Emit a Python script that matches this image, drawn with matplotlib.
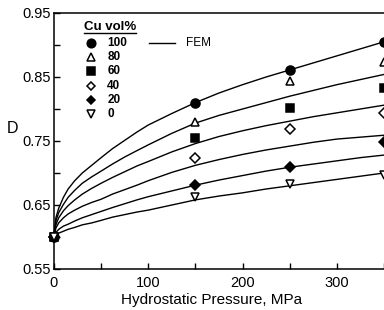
import matplotlib
matplotlib.use("Agg")
import matplotlib.pyplot as plt
from matplotlib.ticker import MultipleLocator

plt.rcParams['font.family'] = ['Liberation Sans', 'DejaVu Sans']

# ---- data ----
cu_labels = ["100", "80", "60", "40", "20", "0"]
exp_pressure = [0, 150, 250, 350]
exp_d_100 = [0.600, 0.810, 0.861, 0.905]
exp_d_80 = [0.600, 0.780, 0.844, 0.873]
exp_d_60 = [0.600, 0.754, 0.801, 0.833]
exp_d_40 = [0.600, 0.724, 0.768, 0.794]
exp_d_20 = [0.600, 0.682, 0.709, 0.748]
exp_d_0 = [0.600, 0.663, 0.683, 0.697]

fem_pressure = [0, 2, 5, 10, 15, 22, 30, 40, 50, 62, 75, 88, 100,
                125, 150, 175, 200, 225, 250, 275, 300, 325, 350]
fem_d_100 = [0.600, 0.630, 0.645, 0.662, 0.675, 0.688, 0.700, 0.712, 0.724, 0.738, 0.751, 0.764, 0.775,
             0.793, 0.810, 0.825, 0.838, 0.850, 0.861, 0.872, 0.883, 0.894, 0.905]
fem_d_80 = [0.600, 0.625, 0.638, 0.651, 0.662, 0.673, 0.684, 0.694, 0.703, 0.714, 0.725, 0.735, 0.744,
            0.762, 0.778, 0.790, 0.800, 0.810, 0.820, 0.829, 0.838, 0.846, 0.854]
fem_d_60 = [0.600, 0.619, 0.630, 0.641, 0.649, 0.658, 0.667, 0.676, 0.684, 0.693, 0.702, 0.711, 0.718,
            0.733, 0.746, 0.757, 0.766, 0.774, 0.781, 0.788, 0.794, 0.800, 0.806]
fem_d_40 = [0.600, 0.614, 0.622, 0.630, 0.636, 0.642, 0.648, 0.654, 0.659, 0.667, 0.674, 0.681, 0.688,
            0.701, 0.712, 0.721, 0.729, 0.736, 0.742, 0.748, 0.753, 0.756, 0.759]
fem_d_20 = [0.600, 0.607, 0.612, 0.617, 0.620, 0.625, 0.630, 0.635, 0.640, 0.646, 0.652, 0.658, 0.663,
            0.672, 0.681, 0.689, 0.696, 0.703, 0.709, 0.714, 0.719, 0.724, 0.728]
fem_d_0 = [0.600, 0.603, 0.606, 0.609, 0.612, 0.615, 0.619, 0.622, 0.626, 0.631, 0.635, 0.639, 0.642,
           0.650, 0.658, 0.664, 0.669, 0.675, 0.680, 0.685, 0.690, 0.695, 0.700]

exp_series = [exp_d_100, exp_d_80, exp_d_60, exp_d_40, exp_d_20, exp_d_0]
fem_series = [fem_d_100, fem_d_80, fem_d_60, fem_d_40, fem_d_20, fem_d_0]

# marker styles: (marker, filled, size)
styles = [("o", True, 6.5), ("^", False, 5.5), ("s", True, 6.0),
          ("D", False, 4.8), ("D", True, 4.8), ("v", False, 5.5)]

fig = plt.figure(figsize=(3.84, 3.10), dpi=100)
ax = fig.add_axes([54 / 384, 1 - 269 / 310, 330 / 384, 256 / 310])

for fd in fem_series:
    ax.plot(fem_pressure, fd, color="black", lw=1.0, zorder=2,
            solid_joinstyle="round")

for ed, (m, filled, ms) in zip(exp_series, styles):
    ax.plot(exp_pressure, ed, linestyle="none", marker=m, markersize=ms,
            markerfacecolor="black" if filled else "white",
            markeredgecolor="black", markeredgewidth=1.1, clip_on=False, zorder=3)

ax.set_xlim(0, 350)
ax.set_ylim(0.55, 0.95)
ax.xaxis.set_major_locator(MultipleLocator(100))
ax.xaxis.set_minor_locator(MultipleLocator(50))
ax.set_yticks([0.55, 0.65, 0.75, 0.85, 0.95])
ax.set_yticklabels(["0.55", "0.65", "0.75", "0.85", "0.95"])
ax.set_yticks([0.60, 0.70, 0.80, 0.90], minor=True)
ax.tick_params(which="both", direction="in", length=4.5, width=1.0,
               labelsize=10.5, top=False, right=False)
ax.tick_params(axis="x", pad=5)
ax.tick_params(axis="y", pad=2)
for s in ["left", "bottom", "top"]:
    ax.spines[s].set_linewidth(1.1)
ax.spines["right"].set_visible(False)

ax.set_xlabel("Hydrostatic Pressure, MPa", fontsize=11)
ax.xaxis.set_label_coords(0.476, -0.121)
ax.xaxis.label.set_va("center")
ax.set_ylabel("D", fontsize=11.5, rotation=0)
ax.yaxis.set_label_coords(-0.127, 0.55)
ax.yaxis.label.set_va("center")

# legend (drawn manually)
ax.text(0.091, 0.945, "Cu vol%", transform=ax.transAxes, fontsize=9.5,
        fontweight="bold", va="center", ha="left")
ax.plot([0.091, 0.249], [0.920, 0.920], transform=ax.transAxes, color="black",
        lw=1.0, clip_on=False)
for i, (lab, (m, filled, ms)) in enumerate(zip(cu_labels, styles)):
    yy = 0.883 - 0.0555 * i
    ax.plot([0.112], [yy], transform=ax.transAxes, linestyle="none", marker=m,
            markersize=ms * 0.95, markerfacecolor="black" if filled else "white",
            markeredgecolor="black", markeredgewidth=1.1, clip_on=False)
    ax.text(0.161, yy, lab, transform=ax.transAxes, fontsize=8.5,
            fontweight="bold", va="center", ha="left")
ax.plot([0.288, 0.367], [0.883, 0.883], transform=ax.transAxes, color="black",
        lw=1.0, clip_on=False)
ax.text(0.40, 0.883, "FEM", transform=ax.transAxes, fontsize=8.5,
        va="center", ha="left")

fig.savefig("out.png", dpi=100)
